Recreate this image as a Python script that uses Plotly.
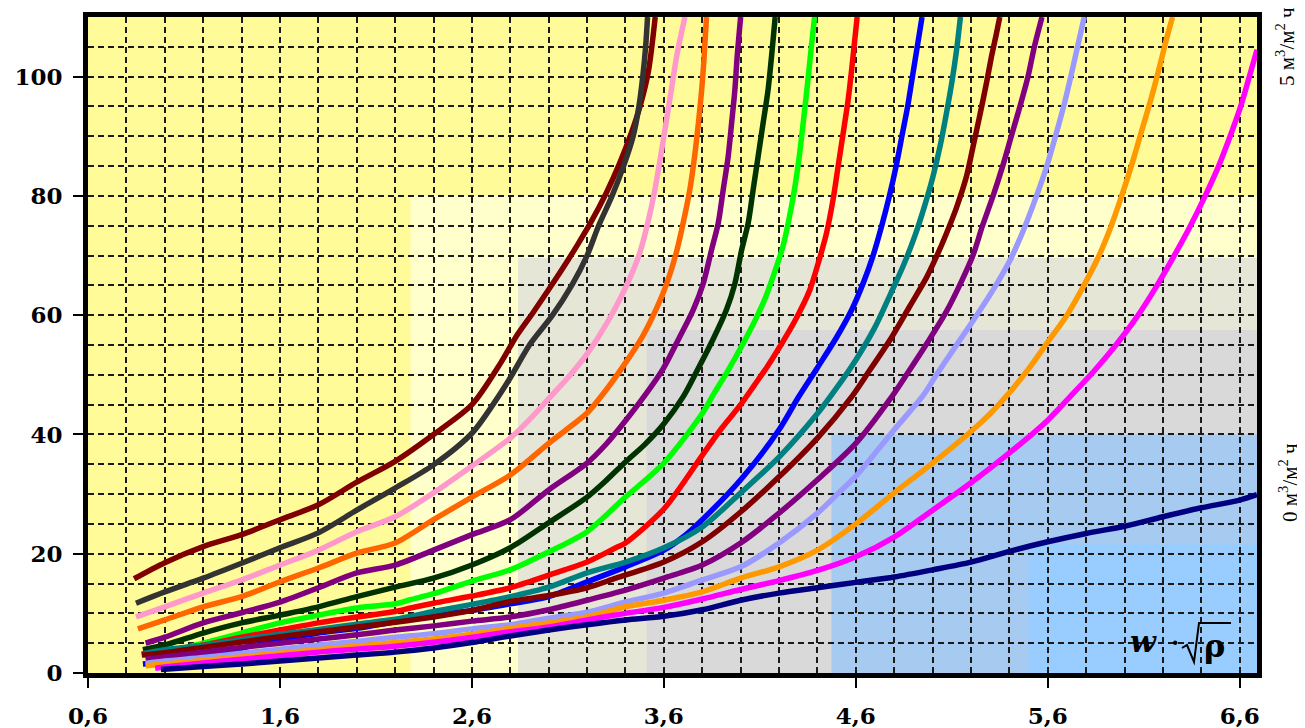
import plotly.graph_objects as go

# ---------------- data ----------------
x_tick_vals = [0.6, 1.6, 2.6, 3.6, 4.6, 5.6, 6.6]
x_tick_text = ["0,6", "1,6", "2,6", "3,6", "4,6", "5,6", "6,6"]
y_tick_vals = [0, 20, 40, 60, 80, 100]
y_tick_text = ["0", "20", "40", "60", "80", "100"]

c01_x = [0.84, 1.0, 1.2, 1.4, 1.6, 1.8, 2.0, 2.2, 2.4, 2.6, 2.75, 2.83, 2.92, 3.0, 3.08, 3.15, 3.22, 3.30, 3.37, 3.43, 3.48, 3.52, 3.555]
c01_y = [15.8, 18.5, 21.2, 23.2, 25.7, 28.2, 32.0, 35.5, 40.0, 45.0, 52.0, 56.4, 60.5, 64.3, 68.2, 71.8, 75.6, 80.5, 85.5, 90.5, 95.5, 101.0, 110]

c02_x = [0.85, 1.0, 1.2, 1.4, 1.6, 1.8, 2.0, 2.2, 2.4, 2.6, 2.72, 2.8, 2.9, 3.02, 3.12, 3.2, 3.26, 3.33, 3.39, 3.44, 3.47, 3.49, 3.505, 3.515]
c02_y = [11.7, 13.6, 15.9, 18.4, 21.0, 23.5, 27.3, 31.0, 34.9, 40.2, 45.5, 49.5, 55, 60, 65, 70, 75, 80, 85, 90, 95, 100, 105, 110]

c03_x = [0.85, 1.0, 1.2, 1.4, 1.6, 1.8, 2.0, 2.2, 2.4, 2.6, 2.8, 2.9, 3.0, 3.1, 3.2, 3.3, 3.36, 3.42, 3.475, 3.52, 3.55, 3.58, 3.61, 3.64, 3.67, 3.71]
c03_y = [9.4, 11.1, 13.4, 15.6, 18.1, 20.6, 23.7, 26.2, 30.2, 34.7, 39.4, 42.5, 46.0, 49.5, 53.5, 58.5, 62.0, 66.0, 70.5, 76.0, 80.5, 86.0, 92.0, 98.0, 104.0, 110]

c04_x = [0.86, 1.0, 1.2, 1.4, 1.6, 1.8, 2.0, 2.2, 2.4, 2.6, 2.8, 3.0, 3.1, 3.2, 3.3, 3.4, 3.49, 3.56, 3.615, 3.665, 3.70, 3.735, 3.76, 3.78, 3.797, 3.81, 3.822]
c04_y = [7.4, 8.9, 11.1, 12.8, 15.3, 17.6, 20.1, 21.8, 25.7, 29.5, 33.2, 38.5, 41.0, 43.6, 47.5, 52.0, 56.5, 61.0, 65.3, 70.5, 75.4, 81.0, 86.6, 92.2, 97.8, 103.4, 110]

c05_x = [0.9, 1.0, 1.2, 1.4, 1.6, 1.8, 2.0, 2.2, 2.4, 2.6, 2.8, 3.0, 3.2, 3.3, 3.4, 3.5, 3.596, 3.683, 3.753, 3.805, 3.848, 3.883, 3.909, 3.935, 3.953, 3.97, 3.982, 4.0]
c05_y = [5.0, 6.0, 8.4, 10.1, 11.9, 14.3, 16.8, 18.1, 20.6, 23.2, 25.7, 30.7, 35.2, 38.4, 42.3, 46.5, 51.0, 56.4, 60.9, 65.3, 70.9, 75.4, 81.0, 86.6, 92.2, 97.8, 103.4, 110]

c06_x = [0.886, 1.0, 1.2, 1.4, 1.6, 1.8, 2.0, 2.2, 2.4, 2.6, 2.8, 3.0, 3.2, 3.3, 3.4, 3.5, 3.6, 3.70, 3.77, 3.857, 3.926, 3.97, 4.005, 4.039, 4.065, 4.091, 4.117, 4.143, 4.161, 4.18]
c06_y = [3.9, 4.7, 6.7, 8.4, 9.7, 11.1, 12.8, 14.4, 15.9, 18.1, 21.0, 25.2, 29.5, 32.3, 35.4, 38.3, 41.8, 46.3, 50.5, 56.0, 60.9, 65.3, 70.9, 75.4, 81.0, 86.6, 92.2, 97.8, 103.4, 110]

c07_x = [0.93, 1.0, 1.2, 1.4, 1.6, 1.8, 2.0, 2.2, 2.28, 2.4, 2.6, 2.8, 3.0, 3.2, 3.4, 3.6, 3.8, 3.86, 3.93, 4.0, 4.07, 4.13, 4.18, 4.22, 4.25, 4.28, 4.305, 4.325, 4.345, 4.365, 4.385]
c07_y = [2.7, 3.4, 5.0, 6.7, 8.4, 9.7, 10.9, 11.6, 12.3, 13.3, 15.4, 17.3, 20.3, 23.7, 29.5, 35.2, 43.5, 46.8, 50.5, 54.5, 58.8, 63.0, 67.5, 71.5, 75.8, 81.0, 86.5, 92.0, 97.8, 104.0, 110]

c08_x = [0.91, 1.0, 1.2, 1.4, 1.6, 1.8, 2.0, 2.2, 2.28, 2.4, 2.6, 2.8, 3.0, 3.2, 3.35, 3.4, 3.6, 3.8, 3.9, 4.0, 4.07, 4.135, 4.2, 4.29, 4.36, 4.404, 4.447, 4.482, 4.508, 4.534, 4.56, 4.58, 4.595, 4.607]
c08_y = [2.3, 3.6, 4.7, 6.0, 7.2, 8.4, 9.4, 10.3, 10.9, 11.7, 12.9, 14.3, 16.4, 18.6, 21.0, 21.8, 27.5, 36.5, 41.0, 45.0, 48.2, 51.2, 54.5, 59.5, 64.2, 68.7, 73.7, 79.5, 85.0, 90.5, 96.1, 101.7, 106.3, 110]

c09_x = [0.886, 1.0, 1.2, 1.4, 1.6, 1.8, 2.0, 2.2, 2.4, 2.6, 2.8, 3.0, 3.2, 3.4, 3.6, 3.7, 3.8, 4.0, 4.2, 4.3, 4.4, 4.5, 4.58, 4.64, 4.69, 4.735, 4.775, 4.81, 4.84, 4.87, 4.895, 4.92, 4.945]
c09_y = [1.5, 1.9, 3.0, 4.2, 5.5, 6.7, 7.5, 8.6, 9.7, 10.5, 11.6, 12.8, 15.3, 17.8, 20.6, 22.8, 25.7, 32.4, 40.8, 46.2, 51.2, 56.3, 61.0, 65.5, 70.0, 75.0, 80.0, 85.0, 90.0, 95.0, 100.0, 105.0, 110]

c10_x = [0.88, 1.0, 1.2, 1.4, 1.6, 1.8, 2.0, 2.2, 2.4, 2.6, 2.8, 3.0, 3.2, 3.4, 3.6, 3.8, 4.0, 4.2, 4.4, 4.5, 4.6, 4.7, 4.78, 4.85, 4.91, 4.96, 5.0, 5.04, 5.07, 5.1, 5.125, 5.145]
c10_y = [3.2, 3.9, 4.6, 5.6, 6.5, 7.3, 8.2, 9.0, 10.3, 11.5, 12.8, 14.4, 16.8, 18.6, 21.0, 24.5, 30.2, 36.2, 43.5, 47.8, 52.5, 58.0, 63.5, 68.5, 73.5, 78.5, 83.0, 88.5, 93.5, 99.0, 104.5, 110]

c11_x = [0.88, 1.0, 1.2, 1.4, 1.6, 1.8, 2.0, 2.2, 2.4, 2.6, 2.8, 3.0, 3.2, 3.35, 3.6, 3.8, 4.0, 4.2, 4.4, 4.578, 4.673, 4.777, 4.881, 4.968, 5.02, 5.072, 5.124, 5.176, 5.211, 5.246, 5.281, 5.307, 5.333, 5.35]
c11_y = [3.0, 3.4, 4.3, 5.2, 6.1, 6.9, 7.7, 8.5, 9.4, 10.5, 12.0, 13.0, 14.3, 15.9, 18.6, 22.0, 27.0, 32.9, 39.4, 46.3, 50.8, 55.8, 61.5, 66.3, 69.8, 73.7, 78.0, 83.2, 88.3, 93.5, 99.0, 103.4, 107.3, 110]

c12_x = [0.9, 1.0, 1.2, 1.4, 1.6, 1.8, 2.0, 2.2, 2.4, 2.6, 2.8, 3.0, 3.2, 3.4, 3.6, 3.8, 4.0, 4.2, 4.4, 4.6, 4.78, 4.87, 4.975, 5.07, 5.145, 5.21, 5.26, 5.315, 5.365, 5.41, 5.455, 5.497, 5.53, 5.57]
c12_y = [2.3, 2.7, 3.5, 4.3, 5.0, 5.7, 6.4, 7.2, 7.9, 8.7, 9.4, 10.6, 12.2, 13.9, 15.9, 18.1, 21.8, 26.8, 32.4, 38.5, 46.0, 50.3, 55.5, 60.5, 65.3, 70, 75, 80, 85, 90, 95, 100, 105, 110]

c13_x = [0.9, 1.0, 1.2, 1.4, 1.6, 1.8, 2.0, 2.2, 2.4, 2.6, 2.8, 3.0, 3.2, 3.4, 3.6, 3.8, 4.0, 4.2, 4.4, 4.52, 4.6, 4.8, 4.95, 5.02, 5.125, 5.23, 5.32, 5.4, 5.47, 5.53, 5.59, 5.64, 5.685, 5.72, 5.755, 5.79]
c13_y = [1.6, 2.0, 2.6, 3.3, 4.0, 4.7, 5.3, 6.0, 6.6, 7.4, 8.1, 9.2, 10.2, 11.9, 13.4, 15.6, 17.8, 21.8, 26.8, 30.5, 33.0, 40.8, 46.5, 50, 55, 60, 64.5, 69.0, 74.0, 79.0, 84.5, 90.0, 95.3, 100, 105, 110]

c14_x = [0.9, 1.0, 1.2, 1.4, 1.6, 1.8, 2.0, 2.2, 2.4, 2.6, 2.8, 3.0, 3.2, 3.4, 3.6, 3.8, 4.0, 4.2, 4.4, 4.6, 4.8, 5.0, 5.2, 5.3, 5.4, 5.5, 5.6, 5.7, 5.78, 5.86, 5.925, 5.985, 6.04, 6.09, 6.14, 6.185, 6.22, 6.25]
c14_y = [1.2, 1.5, 2.1, 2.7, 3.3, 3.9, 4.5, 5.1, 5.7, 6.5, 7.5, 8.4, 9.4, 11.1, 12.2, 13.6, 15.9, 17.8, 20.6, 25.0, 30.2, 35.2, 40.5, 43.5, 47.0, 51.0, 55.5, 60.0, 64.5, 69.5, 74.5, 80.0, 85.5, 91.0, 96.5, 102.0, 106.5, 110]

c15_x = [0.95, 1.0, 1.2, 1.4, 1.6, 1.8, 2.0, 2.2, 2.49, 2.8, 3.0, 3.2, 3.4, 3.6, 3.8, 4.0, 4.2, 4.4, 4.6, 4.8, 5.0, 5.2, 5.4, 5.6, 5.73, 5.84, 5.95, 6.06, 6.16, 6.25, 6.34, 6.42, 6.49, 6.55, 6.605, 6.65, 6.69]
c15_y = [0.8, 1.0, 1.7, 2.3, 2.9, 3.5, 4.0, 4.5, 5.5, 6.9, 7.7, 8.9, 10.0, 11.0, 12.4, 14.0, 15.5, 17.2, 19.5, 22.8, 27.3, 31.9, 36.9, 42.4, 46.8, 50.6, 54.8, 59.5, 64.5, 69.5, 74.8, 80.0, 85.0, 90.0, 95.0, 100.0, 104.5]

c16_x = [0.98, 1.2, 1.4, 1.6, 1.8, 2.0, 2.2, 2.4, 2.6, 2.8, 3.0, 3.2, 3.4, 3.6, 3.8, 4.0, 4.2, 4.4, 4.6, 4.8, 5.0, 5.2, 5.4, 5.6, 5.8, 6.0, 6.2, 6.4, 6.6, 6.69]
c16_y = [0.6, 1.1, 1.5, 2.0, 2.5, 3.0, 3.5, 4.2, 5.1, 6.2, 7.2, 8.1, 8.9, 9.5, 10.6, 12.2, 13.4, 14.3, 15.2, 16.1, 17.3, 18.6, 20.4, 22.0, 23.4, 24.6, 26.2, 27.7, 29.0, 29.9]

curve_colors = ["#800000", "#333333", "#FF99CC", "#FF6600", "#800080", "#003300",
                "#00FF00", "#FF0000", "#0000FF", "#008080", "#800000", "#800080",
                "#9999FF", "#FF9900", "#FF00FF", "#000080"]

# background zones: (x start, y top, colour); each runs to the right edge and down to 0
zone_x0 = [2.28, 2.84, 3.51, 4.473, 5.5]
zone_y1 = [80.0, 69.6, 57.5, 40.0, 21.6]
zone_colors = ["#FFFFCC", "#E6E6D6", "#D9D9D9", "#A6CAF0", "#99CCFF"]

X_MIN, X_MAX = 0.6, 6.69
Y_MIN, Y_MAX = 0, 110

# ---------------- figure ----------------
curves = [(c01_x, c01_y), (c02_x, c02_y), (c03_x, c03_y), (c04_x, c04_y),
          (c05_x, c05_y), (c06_x, c06_y), (c07_x, c07_y), (c08_x, c08_y),
          (c09_x, c09_y), (c10_x, c10_y), (c11_x, c11_y), (c12_x, c12_y),
          (c13_x, c13_y), (c14_x, c14_y), (c15_x, c15_y), (c16_x, c16_y)]

fig = go.Figure()
for (cx, cy), col in zip(curves, curve_colors):
    fig.add_trace(go.Scatter(x=cx, y=cy, mode="lines",
                             line=dict(color=col, width=5.5, shape="spline", smoothing=0.8),
                             showlegend=False, hoverinfo="skip", cliponaxis=True))

for x0, y1, col in zip(zone_x0, zone_y1, zone_colors):
    fig.add_shape(type="rect", xref="x", yref="y", x0=x0, x1=X_MAX, y0=Y_MIN, y1=y1,
                  fillcolor=col, line=dict(width=0), layer="below")

# the page body has an 8px margin, so the figure is 8px smaller than the window
OFF = 8
W, H = 1305 - OFF, 728 - OFF
PL, PR, PT, PB = 88, 1257, 17, 673          # target plot edges in the window
L, T = PL - OFF, PT - OFF
R, B = (W + OFF) - PR, (H + OFF) - PB
pw, ph = PR - PL, PB - PT


def px(xp):
    return (xp - PL) / pw


def py(yp):
    return (PB - yp) / ph


grid = dict(showgrid=True, gridcolor="#1a1a1a", gridwidth=1.5, griddash="6px,4px")

fig.update_xaxes(range=[X_MIN, X_MAX], tickvals=x_tick_vals, ticktext=x_tick_text,
                 ticks="outside", ticklen=10, tickwidth=2, tickcolor="black",
                 showline=True, linewidth=5, linecolor="black", mirror=True,
                 zeroline=False, automargin=False, ticklabelstandoff=8,
                 tickfont=dict(family="DejaVu Serif", size=23, color="black", weight="bold"),
                 minor=dict(dtick=0.2, tick0=0.6, ticks="", **grid), **grid)
fig.update_yaxes(range=[Y_MIN, Y_MAX], tickvals=y_tick_vals, ticktext=y_tick_text,
                 ticks="outside", ticklen=10, tickwidth=2, tickcolor="black",
                 showline=True, linewidth=5, linecolor="black", mirror=True,
                 zeroline=False, automargin=False, ticklabelstandoff=6,
                 tickfont=dict(family="DejaVu Serif", size=23, color="black", weight="bold"),
                 minor=dict(dtick=5, tick0=0, ticks="", **grid), **grid)

ann = dict(xref="paper", yref="paper", showarrow=False, xanchor="center", yanchor="middle")
ann_font = dict(family="Liberation Serif", size=21, color="black")
fig.add_annotation(x=px(1285), y=py(47), text="5 м<sup>3</sup>/м<sup>2</sup> ч",
                   textangle=-90, font=ann_font, **ann)
fig.add_annotation(x=px(1288), y=py(483), text="0 м<sup>3</sup>/м<sup>2</sup> ч",
                   textangle=-90, font=ann_font, **ann)

# w · sqrt(rho) label
fig.add_annotation(x=px(1143), y=py(641), text="<b><i>w</i></b>",
                   font=dict(family="DejaVu Serif", size=30, color="black"), **ann)
fig.add_annotation(x=px(1175), y=py(642), text="<b>·</b>",
                   font=dict(family="DejaVu Serif", size=24, color="black"), **ann)
fig.add_annotation(x=px(1214), y=py(646), text="<b>ρ</b>",
                   font=dict(family="DejaVu Serif", size=32, color="black"), **ann)
rad_pts = [(1182, 648), (1187, 645), (1194, 662), (1199, 623), (1231, 623)]
rad_path = "M " + " L ".join(f"{px(a):.5f},{py(b):.5f}" for a, b in rad_pts)
fig.add_shape(type="path", xref="paper", yref="paper", path=rad_path,
              line=dict(color="black", width=2))

fig.update_layout(width=W, height=H, margin=dict(l=L, r=R, t=T, b=B),
                  paper_bgcolor="white", plot_bgcolor="#FFFB99", showlegend=False)

fig.write_html("out.html")
